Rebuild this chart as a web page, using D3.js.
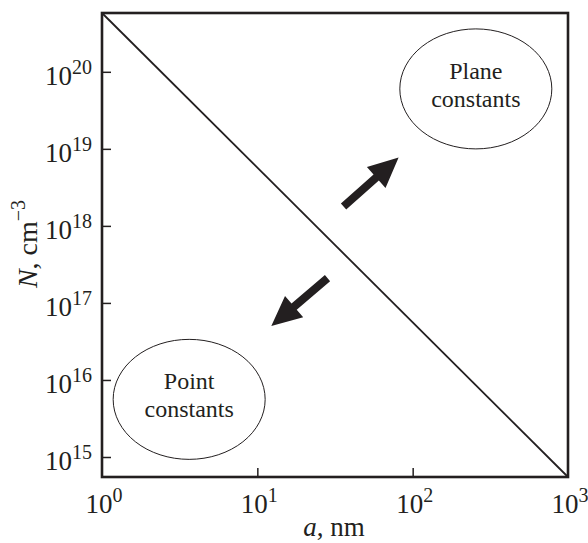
<!DOCTYPE html>
<html>
<head>
<meta charset="utf-8">
<script src="https://cdn.jsdelivr.net/npm/d3@7"></script>
<style>
  body { margin: 0; background: #fff; }
</style>
</head>
<body>
<div id="chart"></div>
<script>
// axis ranges and ticks (a in nm, N in cm^-3)
const xDomain = [1, 1000]
const yDomain = [5.5e14, 5.8e20]
const xTickExp = [0, 1, 2, 3]
const yTickExp = [15, 16, 17, 18, 19, 20]

// boundary line between the two regimes
const lineA = [1, 1000]
const lineN = [5.8e20, 5.5e14]

// regions (centre in data coords)
const regionNames = [["Point", "constants"], ["Plane", "constants"]]
const regionA = [3.64, 255]
const regionN = [5.6e15, 6.0e19]

// arrows: tail -> tip
const arrowTailA = [35.9, 28.3]
const arrowTailN = [1.78e18, 2.1e17]
const arrowTipA = [81.2, 12.3]
const arrowTipN = [7.7e18, 5.0e16]

const width = 588, height = 543
const margin = { left: 102, right: 20, top: 13, bottom: 66 }
const ink = "#231f20"
const serif = "'Liberation Serif', 'Times New Roman', 'DejaVu Serif', serif"

const svg = d3.select("#chart").append("svg")
  .attr("width", width)
  .attr("height", height)
  .attr("font-family", serif)
  .style("font-family", serif)

const x = d3.scaleLog().domain(xDomain).range([margin.left, width - margin.right])
const y = d3.scaleLog().domain(yDomain).range([height - margin.bottom, margin.top])

// inward ticks
svg.append("g")
  .attr("transform", `translate(0,${y.range()[0]})`)
  .call(d3.axisBottom(x).tickValues(xTickExp.slice(1, -1).map(e => 10 ** e)).tickSize(-9).tickSizeOuter(0).tickFormat(""))
  .call(g => g.select(".domain").remove())
  .selectAll("line").attr("stroke", ink).attr("stroke-width", 1.5)

svg.append("g")
  .attr("transform", `translate(${x.range()[0]},0)`)
  .call(d3.axisLeft(y).tickValues(yTickExp.map(e => 10 ** e)).tickSize(-9).tickSizeOuter(0).tickFormat(""))
  .call(g => g.select(".domain").remove())
  .selectAll("line").attr("stroke", ink).attr("stroke-width", 1.5)

// frame
svg.append("rect")
  .attr("x", x.range()[0]).attr("y", y.range()[1])
  .attr("width", x.range()[1] - x.range()[0])
  .attr("height", y.range()[0] - y.range()[1])
  .attr("fill", "none").attr("stroke", ink).attr("stroke-width", 2.6)

// tick labels 10^n
const powLabel = (sel) => {
  sel.append("tspan").text("10")
  sel.append("tspan").attr("dy", -11).attr("font-size", 20).text(d => d)
}

svg.append("g").selectAll("text").data(xTickExp).join("text")
  .attr("x", d => x(10 ** d) + 2)
  .attr("y", y.range()[0] + 36)
  .attr("text-anchor", "middle")
  .attr("font-size", 27)
  .attr("fill", ink)
  .call(powLabel)

svg.append("g").selectAll("text").data(yTickExp).join("text")
  .attr("x", x.range()[0] - 10)
  .attr("y", d => y(10 ** d) + 13)
  .attr("text-anchor", "end")
  .attr("font-size", 27)
  .attr("fill", ink)
  .call(powLabel)

// axis titles
const xt = svg.append("text")
  .attr("x", 334).attr("y", 536)
  .attr("text-anchor", "middle").attr("font-size", 27).attr("fill", ink)
xt.append("tspan").attr("font-style", "italic").text("a")
xt.append("tspan").text(", nm")

const yt = svg.append("text")
  .attr("transform", "translate(37,244) rotate(-90)")
  .attr("text-anchor", "middle").attr("font-size", 28).attr("fill", ink)
yt.append("tspan").attr("font-style", "italic").text("N")
yt.append("tspan").text(", cm")
yt.append("tspan").attr("dy", -12).attr("font-size", 20).text("−3")

// boundary line
svg.append("path")
  .datum(d3.zip(lineA, lineN))
  .attr("d", d3.line().x(d => x(d[0])).y(d => y(d[1])))
  .attr("fill", "none").attr("stroke", ink).attr("stroke-width", 1.8)

// region ellipses with labels
const regions = d3.zip(regionNames, regionA, regionN)
const rg = svg.append("g").selectAll("g").data(regions).join("g")
  .attr("transform", d => `translate(${x(d[1])},${y(d[2])})`)
rg.append("ellipse")
  .attr("rx", 76).attr("ry", 60)
  .attr("fill", "none").attr("stroke", ink).attr("stroke-width", 1)
rg.append("text")
  .attr("text-anchor", "middle").attr("font-size", 24).attr("fill", ink)
  .selectAll("tspan").data(d => d[0]).join("tspan")
  .attr("x", 0)
  .attr("y", (d, i) => i === 0 ? -10 : 18)
  .text(d => d)

// arrows
const arrows = d3.zip(arrowTailA, arrowTailN, arrowTipA, arrowTipN)
const headLen = 30, headHalf = 14, shaftW = 8
svg.append("g").selectAll("path").data(arrows).join("path")
  .attr("d", d => {
    const x0 = x(d[0]), y0 = y(d[1]), x1 = x(d[2]), y1 = y(d[3])
    const len = Math.hypot(x1 - x0, y1 - y0)
    const ux = (x1 - x0) / len, uy = (y1 - y0) / len
    const nx = -uy, ny = ux
    const bx = x1 - ux * headLen, by = y1 - uy * headLen
    const s = shaftW / 2
    const pts = [
      [x0 + nx * s, y0 + ny * s],
      [bx + nx * s, by + ny * s],
      [bx + nx * headHalf, by + ny * headHalf],
      [x1, y1],
      [bx - nx * headHalf, by - ny * headHalf],
      [bx - nx * s, by - ny * s],
      [x0 - nx * s, y0 - ny * s]
    ]
    return "M" + pts.map(p => p.join(",")).join("L") + "Z"
  })
  .attr("fill", ink)
</script>
</body>
</html>
